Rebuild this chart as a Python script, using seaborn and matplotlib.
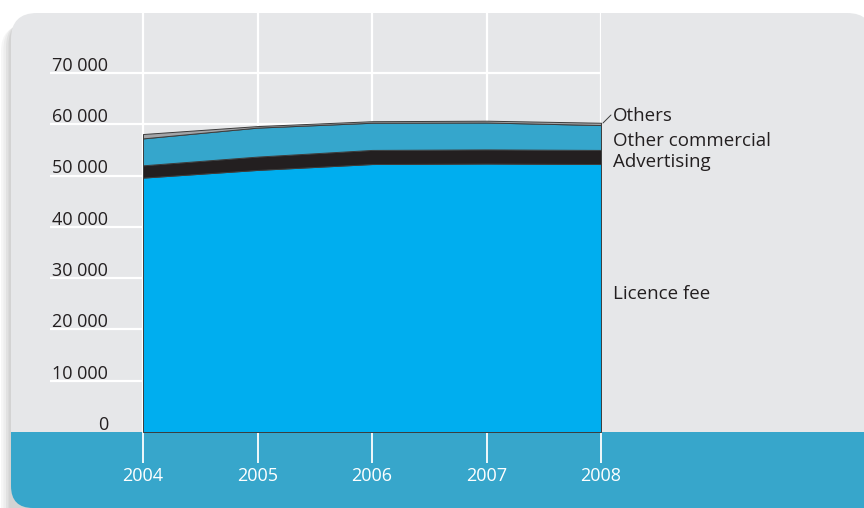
import numpy as np
import pandas as pd
import matplotlib
matplotlib.use("Agg")
import matplotlib.pyplot as plt
from matplotlib.patches import FancyBboxPatch, Rectangle
import seaborn as sns

# Data (NOK thousand)
years = [2004, 2005, 2006, 2007, 2008]
licence_fee = [49600, 51100, 52250, 52350, 52250]
advertising = [2400, 2600, 2750, 2750, 2750]
other_commercial = [5250, 5650, 5300, 5250, 4850]
others = [850, 300, 300, 350, 450]
series_names = ["Licence fee", "Advertising", "Other commercial", "Others"]
y_ticks = [0, 10000, 20000, 30000, 40000, 50000, 60000, 70000]
y_tick_labels = ["0", "10 000", "20 000", "30 000", "40 000", "50 000", "60 000", "70 000"]

df = pd.DataFrame({"year": years, "Licence fee": licence_fee, "Advertising": advertising,
                   "Other commercial": other_commercial, "Others": others})

sns.set_theme(style="white")
plt.rcParams["font.family"] = ["Open Sans", "DejaVu Sans"]

colors = ["#00aeef", "#231f20", "#35a6cc", "#a2a4a7"]
panel_grey = "#e6e7e9"
band_blue = "#37a6cb"
text_dark = "#231f20"

W, H = 864, 508
fig = plt.figure(figsize=(W / 100, H / 100), dpi=100)
fig.patch.set_facecolor("white")

# background layer in pixel coordinates
bg = fig.add_axes([0, 0, 1, 1])
bg.set_xlim(0, W)
bg.set_ylim(H, 0)
bg.axis("off")

# soft shadow on the left side only
for i, a in enumerate([0.05, 0.06, 0.08, 0.10]):
    off = 10 - i * 2.5
    bg.add_patch(FancyBboxPatch((11 - off, 13 + 12 - i * 2), 300, 520,
                                boxstyle="round,pad=0,rounding_size=26",
                                fc="#606060", ec="none", alpha=a, zorder=0))

bg.add_patch(FancyBboxPatch((11, 13), 862, 460, boxstyle="round,pad=0,rounding_size=26",
                            fc=panel_grey, ec="none", zorder=1))
bg.add_patch(FancyBboxPatch((11, 380), 900, 128, boxstyle="round,pad=0,rounding_size=22",
                            fc=band_blue, ec="none", zorder=2))
bg.add_patch(Rectangle((11, 370), 900, 62, fc=panel_grey, ec="none", zorder=3))

# data axes: x from pixel 50 to 601, y from pixel 432 (0) to 13
px_per_year = (601 - 143) / 4
px_per_unit = (432 - 73) / 70000
ax = fig.add_axes([50 / W, (H - 432) / H, (601 - 50) / W, (432 - 13) / H])
ax.set_facecolor("none")
ax.set_xlim(2004 - (143 - 50) / px_per_year, 2008)
ax.set_ylim(0, (432 - 13) / px_per_unit)

for v in y_ticks[1:]:
    ax.axhline(v, color="white", lw=1.6, zorder=1)
for yr in years:
    ax.axvline(yr, color="white", lw=1.6, zorder=1)

ax.stackplot(df["year"], [df[n] for n in series_names], colors=colors,
             edgecolor="#3c3c3c", linewidth=0.7, zorder=3)

for s in ax.spines.values():
    s.set_visible(False)

ax.set_yticks([])
ax.set_xticks(years)
ax.set_xticklabels([str(y) for y in years], color="white", fontsize=13)
ax.tick_params(axis="x", direction="out", length=22.5, width=1.3, color="white", pad=2.5,
               bottom=True)
ax.grid(False)

for v, lab in zip(y_ticks, y_tick_labels):
    ax.annotate(lab, xy=((108 - 50) / (601 - 50), v), xycoords=("axes fraction", "data"),
                xytext=(0, 1.5), textcoords="offset points", ha="right", va="baseline",
                fontsize=13, color=text_dark)

# series labels on the right
label_pos = {"Others": 121, "Other commercial": 146, "Advertising": 167, "Licence fee": 299}
for name, yb in label_pos.items():
    fig.text(613 / W, 1 - yb / H, name, ha="left", va="baseline", fontsize=13.5, color=text_dark)
bg.plot([603, 611], [123, 115], color="#3c3c3c", lw=0.7, zorder=5)

fig.savefig("out.png", dpi=100)
